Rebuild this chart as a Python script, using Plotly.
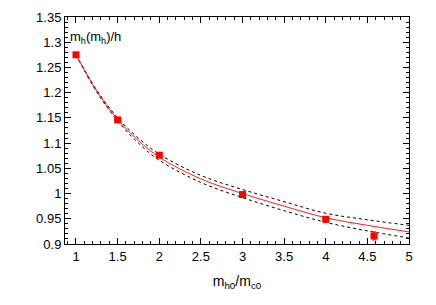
import plotly.graph_objects as go

# data points
pt_x = [1.0, 1.5, 2.0, 3.0, 4.0, 4.58]
pt_y = [1.275, 1.146, 1.076, 0.998, 0.949, 0.916]
pt_err = [0.003, 0.003, 0.003, 0.005, 0.003, 0.008]

# fit curve and band
curve_x = [1.0, 1.25, 1.5, 1.75, 2.0, 2.5, 3.0, 3.5, 4.0, 4.5, 5.0]
curve_y = [1.275, 1.203, 1.147, 1.105, 1.072, 1.029, 1.000, 0.975, 0.952, 0.937, 0.924]
upper_y = [1.275, 1.205, 1.150, 1.110, 1.078, 1.036, 1.008, 0.984, 0.961, 0.948, 0.937]
lower_y = [1.275, 1.201, 1.144, 1.100, 1.066, 1.022, 0.992, 0.966, 0.943, 0.926, 0.912]

fig = go.Figure()
fig.add_trace(go.Scatter(x=curve_x, y=upper_y, mode="lines", line=dict(color="black", width=1, dash="3px,3px"), line_shape="spline", hoverinfo="skip"))
fig.add_trace(go.Scatter(x=curve_x, y=lower_y, mode="lines", line=dict(color="black", width=1, dash="3px,3px"), line_shape="spline", hoverinfo="skip"))
fig.add_trace(go.Scatter(x=curve_x, y=curve_y, mode="lines", line=dict(color="#ff2020", width=1), line_shape="spline"))
fig.add_trace(go.Scatter(x=pt_x, y=pt_y, mode="markers",
                         marker=dict(symbol="square", size=7, color="#ff0000"),
                         error_y=dict(type="data", array=pt_err, color="#ff0000", thickness=1, width=2)))

axis_common = dict(showline=True, linecolor="black", linewidth=1, mirror="allticks",
                   ticks="inside", ticklen=6, tickcolor="black", showgrid=False, zeroline=False,
                   automargin=False,
                   tickfont=dict(family="Liberation Sans, Arial, sans-serif", size=13, color="black"))

fig.update_layout(
    width=436, height=305,
    margin=dict(l=57, r=35, t=9, b=69),
    plot_bgcolor="white", paper_bgcolor="white",
    showlegend=False,
    font=dict(family="Liberation Sans, Arial, sans-serif", size=13, color="black"),
    xaxis=dict(range=[0.868, 5.0], tick0=1, dtick=0.5,
               minor=dict(dtick=0.1, tick0=1, ticks="inside", ticklen=3, tickcolor="black"),
               title=dict(text="m<sub>h0</sub>/m<sub>c0</sub>", standoff=13, font=dict(size=14)),
               **axis_common),
    yaxis=dict(range=[0.9, 1.35], tick0=0.9, dtick=0.05,
               minor=dict(dtick=0.01, tick0=0.9, ticks="inside", ticklen=3, tickcolor="black"),
               **axis_common),
    annotations=[dict(text="m<sub>h</sub>(m<sub>h</sub>)/h", xref="paper", yref="paper",
                      x=0.008, y=0.955, xanchor="left", yanchor="top", showarrow=False,
                      font=dict(size=13))],
)

fig.write_html("out.html")
